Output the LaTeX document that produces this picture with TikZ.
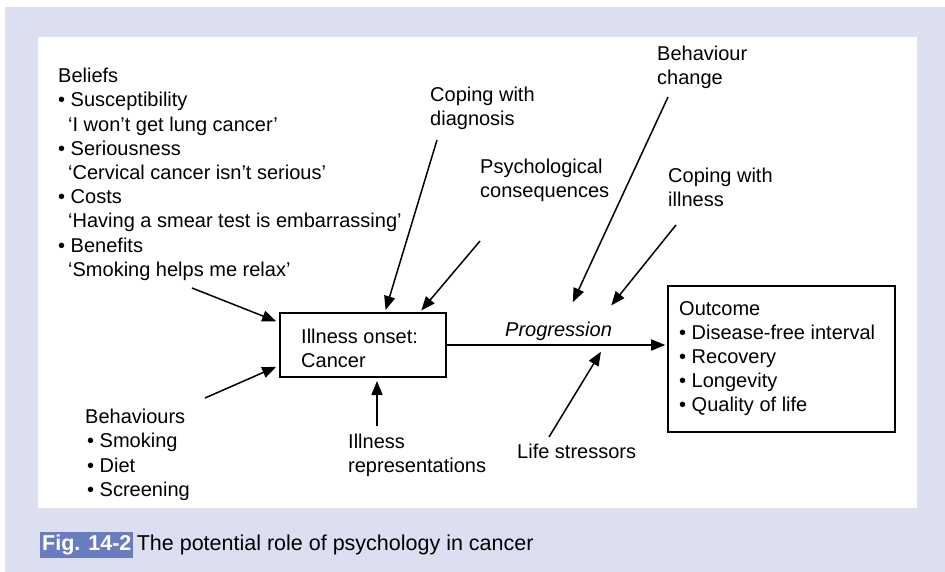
\documentclass[tikz,border=0pt]{standalone}
\usepackage{fontspec}
\setmainfont{Liberation Sans}
\usetikzlibrary{arrows.meta,calc}
\definecolor{lav}{HTML}{DCDFF0}
\definecolor{figblue}{HTML}{6A7CC0}
\tikzset{
  lbl/.style={anchor=north west,align=left,inner sep=0pt,font=\fontsize{20}{24.2}\selectfont},
  boxx/.style={draw,line width=1.6pt,inner sep=0pt},
  arr/.style={line width=1.5pt,-{Triangle[length=14pt,width=11pt]},shorten >=2pt},
}
\begin{document}
\begin{tikzpicture}[x=1pt,y=-1pt]
\useasboundingbox (0,0) rectangle (945,572);
\fill[lav] (5,7) rectangle (945,572);
\fill[white] (38,37) rectangle (917,508);

% boxes
\node[boxx,minimum width=166pt,minimum height=64pt] (onset) at (363,345) {};
\node[lbl] (onsett) at (301,329) {Illness onset:\\Cancer};
\node[boxx,minimum width=227pt,minimum height=146pt] (outcome) at (781.5,359) {};
\node[lbl] (outt) at (679,301) {Outcome\\\textbullet\ Disease-free interval\\\textbullet\ Recovery\\\textbullet\ Longevity\\\textbullet\ Quality of life};

% text groups
\node[lbl] (beliefs) at (58,68) {Beliefs\\
\textbullet\ Susceptibility\\
\hspace{10pt}‘I won’t get lung cancer’\\
\textbullet\ Seriousness\\
\hspace{10pt}‘Cervical cancer isn’t serious’\\
\textbullet\ Costs\\
\hspace{10pt}‘Having a smear test is embarrassing’\\
\textbullet\ Benefits\\
\hspace{10pt}‘Smoking helps me relax’};
\node[lbl] (behav) at (85,409) {Behaviours\\
\hspace{2pt}\textbullet\ Smoking\\
\hspace{2pt}\textbullet\ Diet\\
\hspace{2pt}\textbullet\ Screening};
\node[lbl] (copdiag) at (430,87) {Coping with\\diagnosis};
\node[lbl] (psych) at (480,159) {Psychological\\consequences};
\node[lbl] (bchange) at (657,46) {Behaviour\\change};
\node[lbl] (copill) at (668,168) {Coping with\\illness};
\node[lbl] (repr) at (348,434) {Illness\\representations};
\node[lbl] (stress) at (517,444) {Life stressors};
\node[lbl,font=\fontsize{20}{24}\selectfont\itshape] (prog) at (505,322) {Progression};

% connector ends
\coordinate (tBel) at (192,288);
\coordinate (hBel) at (278,322);
\coordinate (tBeh) at (205,398);
\coordinate (hBeh) at (278,366);
\coordinate (tCd) at (437,140);
\coordinate (hCd) at (385,312);
\coordinate (tPs) at (480,241);
\coordinate (hPs) at (420,312);
\coordinate (tBc) at (668,97);
\coordinate (hBc) at (572,304);
\coordinate (tCi) at (676,225);
\coordinate (hCi) at (610,307);
\coordinate (tLs) at (549,437);
\coordinate (hLs) at (602,350);
\coordinate (tRe) at (377,426);
\coordinate (hRe) at (377,379);

\draw[arr] (onset.east) -- (outcome.west |- onset.east);
\draw[arr] (tBel) -- (hBel);
\draw[arr] (tBeh) -- (hBeh);
\draw[arr] (tCd) -- (hCd);
\draw[arr] (tPs) -- (hPs);
\draw[arr] (tBc) -- (hBc);
\draw[arr] (tCi) -- (hCi);
\draw[arr] (tLs) -- (hLs);
\draw[arr] (tRe) -- (hRe);

% caption
\node[fill=figblue,text=white,inner xsep=2pt,inner ysep=3pt,anchor=west,font=\fontsize{21.5}{24}\selectfont\bfseries] (fig) at (40,545) {Fig. 14-2};
\node[anchor=west,inner sep=0pt,font=\fontsize{21.5}{24}\selectfont] (cap) at (fig.east) {\hspace{3pt}The potential role of psychology in cancer};
\end{tikzpicture}
\end{document}
